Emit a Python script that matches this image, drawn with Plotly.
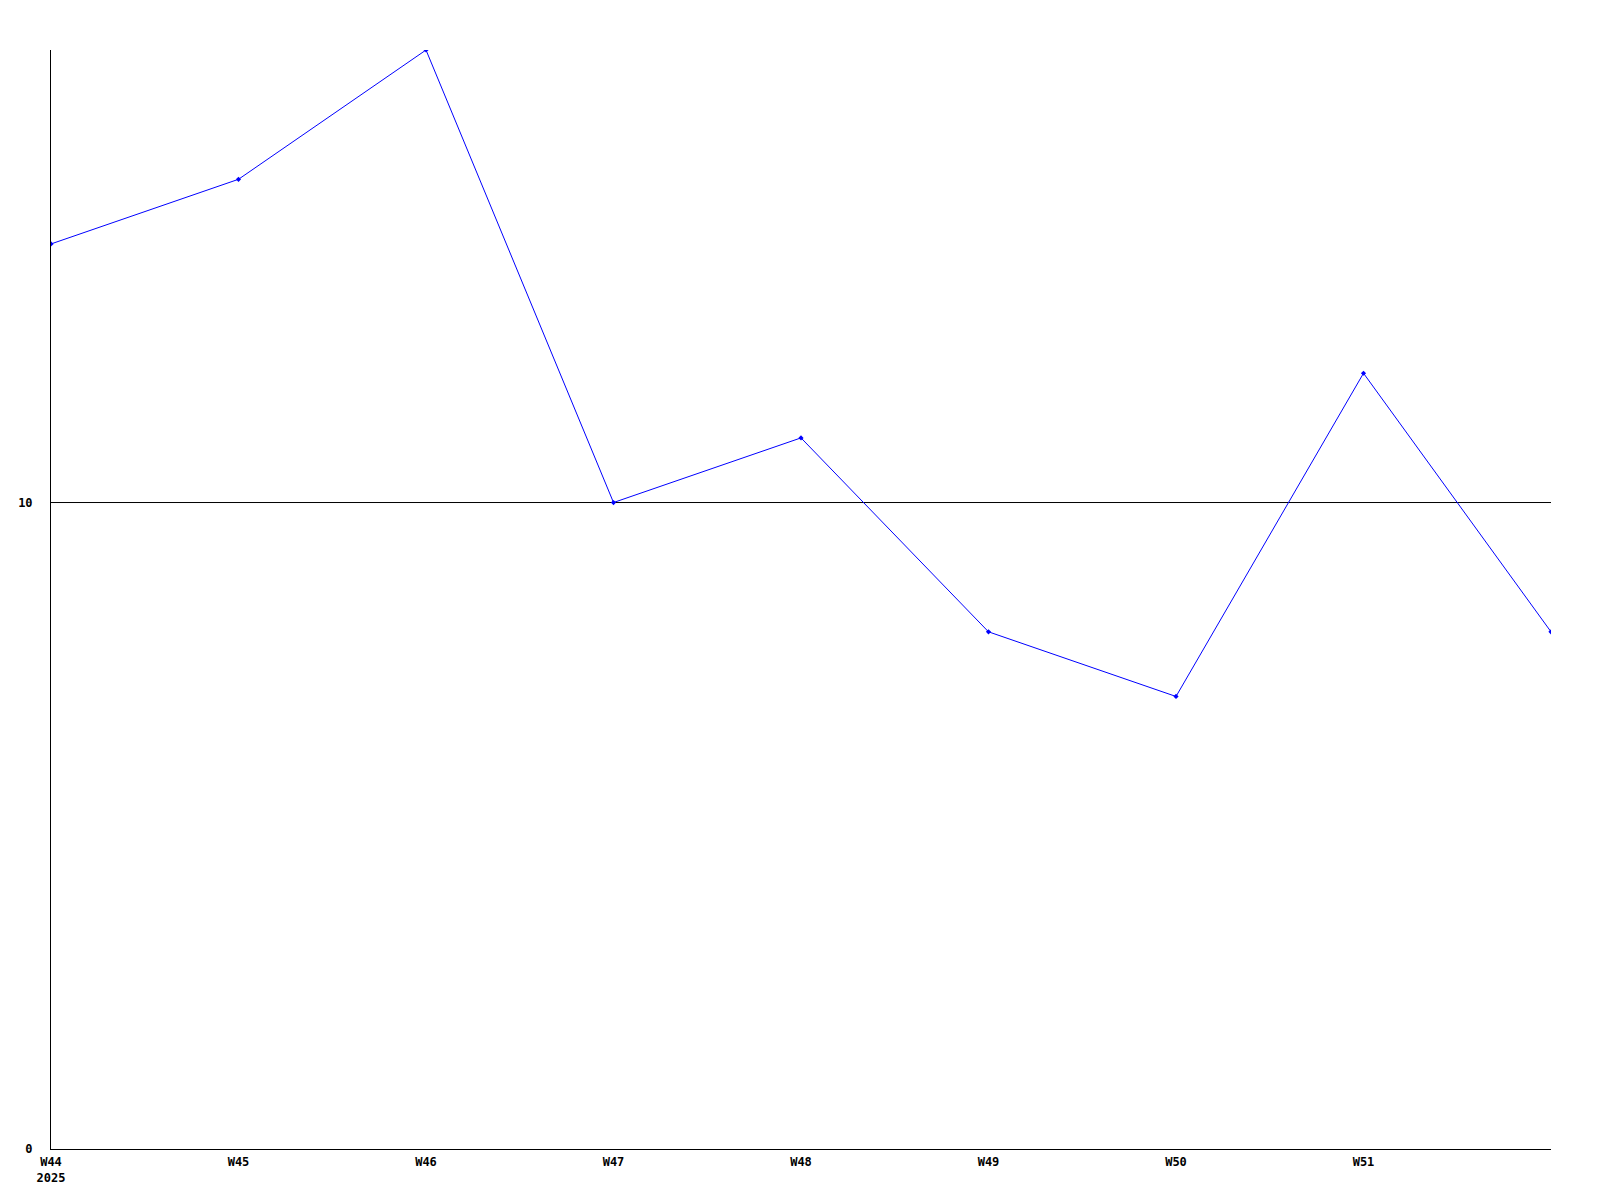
import plotly.graph_objects as go

weeks = ["W44", "W45", "W46", "W47", "W48", "W49", "W50", "W51", "W52"]
values = [14, 15, 17, 10, 11, 8, 7, 12, 8]
tick_labels = ["W44<br>2025", "W45", "W46", "W47", "W48", "W49", "W50", "W51"]
threshold = 10

xs = list(range(len(weeks)))

fig = go.Figure()
fig.add_trace(go.Scatter(
    x=xs, y=values,
    mode="lines+markers",
    line=dict(color="#0000ff", width=1),
    marker=dict(color="#0000ff", size=4, symbol="diamond"),
    cliponaxis=True,
    hoverinfo="x+y",
))

# reference line at the threshold value
fig.add_shape(type="line", xref="paper", x0=0, x1=1, yref="y", y0=threshold, y1=threshold,
              line=dict(color="black", width=1), layer="below")

tick_font = dict(family="DejaVu Sans Mono", size=12, color="black", weight="bold")

# page body has an 8px margin, so the figure margins are shifted by that
fig.update_layout(
    width=1600, height=1200,
    margin=dict(l=43, r=57, t=42, b=59),
    paper_bgcolor="white", plot_bgcolor="white",
    showlegend=False,
    xaxis=dict(
        range=[0, len(weeks) - 1],
        tickvals=xs[:-1], ticktext=tick_labels,
        showgrid=False, zeroline=False,
        showline=True, linecolor="black", linewidth=1,
        ticks="", tickfont=tick_font, ticklabelstandoff=2,
        automargin=False,
    ),
    yaxis=dict(
        range=[0, 17],
        tickvals=[0, 10], ticktext=["0", "10"],
        showgrid=False, zeroline=False,
        showline=True, linecolor="black", linewidth=1,
        ticks="", tickfont=tick_font, ticklabelstandoff=15,
        automargin=False,
    ),
)

fig.write_html("out.html")
